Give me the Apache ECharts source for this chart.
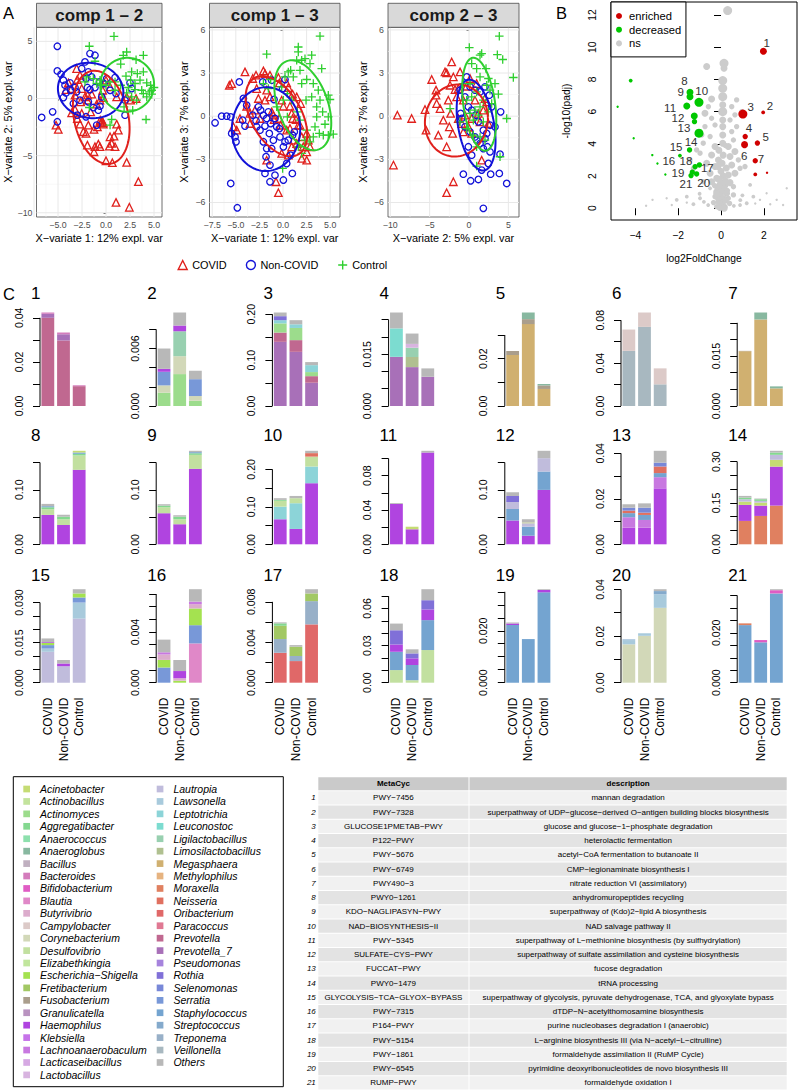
<!DOCTYPE html>
<html><head><meta charset="utf-8">
<script src="https://cdn.jsdelivr.net/npm/echarts@6/dist/echarts.min.js"></script>
<style>html,body{margin:0;padding:0;background:#fff}#c{width:800px;height:1092px}</style>
</head><body><div id="c"></div>
<script>
const FONT = '"Liberation Sans", Arial, Helvetica, sans-serif';
const groupNames = ['COVID', 'Non-COVID', 'Control'];

// ---------------- Panel A : sample plots (component scores) ----------------
const comp12_COVID = [[-5.21,-2.33],[-4.97,-2.71],[-3.06,2.62],[-2.71,2.03],[-2.99,1.66],[-3.92,1.37],[-4.17,0.78],[-3.58,0.87],[-3.23,0.29],[-2.53,0.87],[-2.19,0.14],[-1.91,0.29],[-1.49,0.38],[-1.94,-0.15],[-2.64,-0.29],[-3.23,-0.96],[-3.58,-1.26],[-2.53,-1.31],[-1.6,-1.17],[-0.97,-0.5],[-0.63,-0.15],[-0.28,0.08],[-0.35,0.72],[0.0,1.6],[0.42,1.02],[1.11,0.14],[2.15,0.14],[2.57,-0.15],[3.13,0.0],[-0.56,-2.13],[-0.28,-2.24],[-0.9,-2.48],[-1.25,-2.71],[-1.84,-2.33],[-2.08,-3.06],[-2.36,-2.91],[-1.94,-4.08],[-1.15,-4.22],[-0.8,-3.99],[-0.63,-4.22],[0.42,-3.35],[0.83,-3.29],[1.11,-2.24],[1.28,-2.77],[0.59,-3.93],[0.94,-4.22],[0.35,-4.17],[-1.25,-4.66],[0.0,-5.45],[0.66,-5.62],[2.15,-5.59],[3.37,-7.28],[1.04,-9.09],[2.43,-9.52],[-2.71,-2.24],[-2.99,-1.75],[-0.4,-2.0],[-0.6,-1.9],[-0.3,-2.1]];
const comp12_NonCOVID = [[-5.07,4.57],[-6.70,-1.66],[-5.07,2.41],[-4.69,2.12],[-5.56,-1.17],[-5.07,-2.04],[-1.67,3.93],[-1.15,3.78],[-2.19,3.2],[-2.53,2.62],[-4.44,1.6],[-4.27,1.16],[-3.75,1.37],[-3.23,0.96],[-4.44,0.08],[-4.17,0.49],[-3.06,0.58],[-3.68,0.72],[-1.84,2.33],[-1.49,1.89],[-2.08,1.74],[-1.94,0.96],[-1.67,0.78],[-1.15,0.96],[-0.69,1.45],[-0.45,0.14],[-0.63,-0.67],[-0.8,-1.02],[-0.21,1.31],[0.07,1.74],[0.94,1.83],[0.42,0.72],[1.04,0.43],[1.98,-1.46],[1.98,-0.15],[-0.97,-2.33],[-1.84,-0.29],[-2.71,-0.15],[-3.4,-0.44],[-2.99,-1.46],[-2.08,-1.6],[-1.32,-0.79],[2.5,1.37],[2.67,0.87]];
const comp12_Control = [[0.83,5.44],[-1.74,4.57],[2.15,4.07],[1.8,3.78],[3.13,3.4],[3.89,3.78],[-1.15,3.26],[1.53,3.0],[2.67,2.33],[3.26,2.18],[3.89,2.33],[2.08,1.95],[2.57,1.6],[3.02,1.31],[3.54,1.6],[4.24,1.37],[4.65,1.16],[5.0,0.96],[4.51,0.58],[4.76,0.38],[3.72,0.72],[3.02,0.78],[2.33,0.96],[1.53,1.16],[0.94,1.45],[0.42,1.45],[0.0,1.16],[-0.45,1.16],[-0.63,1.6],[-0.97,1.31],[-2.01,1.89],[-1.32,1.74],[-2.19,1.45],[-1.74,-0.79],[0.59,-1.84],[0.42,-2.33],[1.88,-0.73],[2.78,-1.02],[4.17,-1.84],[3.19,-0.15],[2.67,0.14],[2.15,0.49],[0.94,0.72],[4.24,0.14],[4.76,0.72],[3.89,0.43]];

const comp13_COVID = [[-5.69,2.15],[-5.44,2.27],[-4.03,3.08],[-2.86,2.85],[-3.21,2.62],[-2.08,3.15],[-1.91,2.96],[-1.38,2.85],[-0.49,2.69],[-0.39,2.31],[0.39,2.31],[0.56,1.99],[1.02,1.53],[1.45,1.34],[1.87,0.88],[-2.79,1.92],[-2.61,1.23],[-3.85,0.69],[-3.5,0.19],[-3.5,-0.51],[-4.56,-0.16],[-2.97,0.42],[-2.44,-0.16],[-1.2,0.3],[-1.02,0.07],[-0.95,-0.23],[-1.91,1.11],[-1.38,1.34],[-1.73,1.81],[-0.14,1.11],[0.04,0.69],[0.74,0.69],[0.92,0.19],[1.02,-0.16],[1.38,-0.23],[1.62,-0.63],[0.39,-0.97],[0.74,-0.86],[-0.25,-0.63],[-0.39,-0.16],[1.8,-0.63],[2.51,-1.2],[1.98,-1.44],[1.09,-1.67],[1.45,-1.9],[2.15,-2.13],[2.68,-1.67],[2.86,-2.13],[2.51,-2.48],[1.98,-2.94],[2.51,-3.06],[0.92,-2.13],[0.56,-2.71],[-0.14,-2.59],[-1.73,-3.06],[-0.74,-4.56],[-0.49,-5.32],[-4.91,-0.97],[-5.26,-0.74]];
const comp13_NonCOVID = [[-4.63,2.38],[-7.2,-0.46],[-6.5,0.0],[-5.97,0.0],[-5.54,-0.05],[-5.44,-1.2],[-5.08,-1.44],[-4.98,-1.78],[-5.54,-4.68],[-4.84,-6.37],[-4.2,1.23],[-3.85,0.76],[-4.27,-0.28],[-4.03,-0.69],[-3.21,0.07],[-2.86,-0.32],[-2.61,0.65],[-2.37,0.42],[-2.08,0.07],[-1.73,-0.16],[-1.55,0.3],[-2.79,-0.74],[-2.44,-0.97],[-1.91,-0.69],[-1.31,-0.51],[-0.85,-0.16],[-0.67,-0.74],[-0.39,-0.86],[-0.32,-1.44],[-1.02,-1.67],[-1.45,-1.2],[-2.08,-1.78],[-1.73,-2.25],[-1.2,-2.25],[-1.8,-2.82],[-1.38,-3.4],[-1.91,-3.98],[-1.38,-4.56],[-0.85,-4.1],[0.04,-4.44],[0.39,-3.29],[0.81,-2.71],[0.99,-3.98],[0.04,-2.13],[0.21,-1.78],[0.56,-1.67],[1.02,-1.32],[1.2,-1.09],[0.21,2.55],[-2.15,2.38],[-1.2,2.5],[-0.04,1.92],[-0.95,1.16]];
const comp13_Control = [[-1.73,4.31],[3.92,5.56],[1.62,4.81],[1.62,4.47],[1.45,3.89],[1.98,3.89],[0.81,3.19],[2.33,4.0],[3.04,4.24],[2.86,3.66],[4.1,3.31],[1.09,2.73],[1.8,3.19],[2.51,2.55],[1.98,2.27],[3.21,2.27],[3.74,1.81],[4.8,1.46],[4.98,1.16],[3.92,1.11],[3.04,1.34],[2.44,1.11],[3.57,0.65],[4.2,0.3],[4.8,-0.05],[4.45,-0.56],[3.57,-0.05],[3.39,-0.74],[3.85,-1.2],[4.27,-1.32],[4.8,-1.32],[5.33,-1.25],[3.21,-1.44],[2.86,-1.78],[2.33,-1.67],[2.51,-0.97],[1.8,-0.28],[1.52,0.3],[0.92,1.11],[0.46,1.57],[0.04,1.11],[-0.67,0.65],[0.46,-0.05],[-0.14,2.04],[-1.31,2.55],[-1.55,1.92],[-2.08,2.27],[-0.04,-3.63],[1.98,-2.59],[1.62,-2.13],[0.21,2.73],[0.56,3.08]];

const comp23_COVID = [[-7.29,-0.16],[-5.59,0.46],[-5.46,-0.97],[-4.74,2.55],[-4.19,1.81],[-4.19,1.46],[-4.11,0.88],[-3.9,-1.32],[-3.68,0.53],[-3.26,-0.28],[-3.05,3.08],[-2.84,3.01],[-2.84,-2.13],[-2.63,1.11],[-2.5,-0.74],[-2.41,2.15],[-2.33,0.19],[-2.2,3.77],[-2.08,-1.2],[-1.99,-4.56],[-1.78,1.85],[-1.57,1.34],[-1.36,-0.16],[-1.14,3.08],[-0.93,-0.51],[-0.72,1.11],[-0.51,0.07],[-0.3,2.08],[-0.08,-0.74],[0.13,2.62],[-2.84,-5.32],[0.76,1.11],[0.97,2.27],[1.19,0.19],[1.4,-0.39],[1.61,-3.06],[1.82,0.42],[2.03,1.23],[2.25,1.0],[2.46,-0.51],[-0.72,-1.09],[0.34,-0.16],[-1.36,1.92],[-1.99,2.73],[0.34,-1.2],[-9.1,0.07],[-9.6,-3.4]];
const comp23_NonCOVID = [[-0.72,-4.03],[0.21,-4.49],[1.19,-4.4],[1.82,-6.41],[2.75,-4.03],[4.79,-4.68],[3.85,-3.98],[3.94,-2.64],[4.02,0.3],[3.3,-0.74],[2.67,-2.48],[2.46,-3.29],[1.82,-2.25],[1.4,-1.9],[0.76,-1.44],[0.13,-1.09],[-0.51,-0.74],[-1.06,0.19],[-1.14,1.81],[-0.51,1.34],[-0.08,0.65],[0.34,0.42],[0.89,0.07],[1.19,-0.39],[1.82,-0.97],[2.03,-1.55],[2.33,-2.13],[2.67,-0.63],[2.88,0.65],[2.58,1.46],[2.03,2.04],[1.4,1.69],[0.76,1.81],[0.13,2.04],[-0.08,-2.13],[0.34,-2.71],[1.61,-3.75],[-0.3,2.73],[-0.93,-0.16],[0.97,-1.67],[2.25,-1.2]];
const comp23_Control = [[3.85,5.56],[0.04,4.77],[1.61,4.35],[1.4,4.24],[3.6,4.28],[4.28,3.94],[0.34,3.66],[0.97,3.31],[2.16,3.31],[5.63,2.69],[1.4,2.73],[2.46,2.62],[0.13,2.27],[-0.72,2.27],[3.3,2.27],[3.73,1.53],[2.67,1.81],[-2.41,0.53],[0.97,1.69],[0.34,1.34],[1.82,1.11],[1.4,0.65],[0.76,0.42],[0.13,0.19],[1.19,0.07],[0.55,-0.28],[1.82,-0.39],[2.46,0.3],[-0.3,-0.86],[0.55,-1.32],[1.4,-1.44],[2.03,-1.67],[0.97,-2.13],[4.79,-0.16],[3.94,-2.82],[0.97,-3.47],[2.88,0.88],[-1.14,-0.39],[-0.3,1.11],[2.25,2.15]];

// confidence ellipses: [centreX, centreY, axis1X, axis1Y, axis2X, axis2Y] per group (COVID, Non-COVID, Control)
const ellipse12 = [[-0.5,-1.65,1.05,-4.05,2.76,0.5],[-1.6,0.7,3.4,-0.35,0.25,2.4],[2.2,1.2,2.8,0.2,-0.2,2.35]];
const ellipse13 = [[-0.7,0.0,2.33,-2.65,2.29,0.87],[-1.8,-0.9,3.6,-0.3,0.4,2.9],[2.1,0.76,1.7,-3.07,2.49,0.59]];
const ellipse23 = [[-1.6,-0.3,4.0,0.2,-0.1,2.5],[0.9,-0.62,1.02,-3.15,2.25,0.22],[1.3,0.83,0.83,-3.23,2.0,0.15]];

const ticksX12 = [-7.5,-5,-2.5,0,2.5,5], ticksY12 = [-10,-5,0,5];
const ticksX13 = [-7.5,-5,-2.5,0,2.5,5], ticksY13 = [-6,-3,0,3,6];
const ticksX23 = [-10,-5,0,5], ticksY23 = [-6,-3,0,3,6];

// ---------------- Panel B : volcano plot ----------------
// [log2FoldChange, -log10(padj), mean-abundance class]
const volcanoNs = [[0.31,12.28,5],[0.14,9.0,5],[0.14,8.69,4],[-0.67,8.8,4],[0.08,7.93,5],[0.08,7.45,5],[0.08,6.93,5],[0.08,6.42,4],[0.08,6.0,5],[0.08,5.48,4],[0.08,5.07,4],[0.08,4.55,4],[0.08,4.04,4],[-0.44,6.79,4],[-0.59,6.31,3],[-0.75,5.9,4],[-0.44,5.59,3],[-0.28,5.17,3],[-0.75,5.07,3],[-0.9,4.55,3],[-0.51,4.45,3],[-0.28,3.83,4],[-0.83,4.04,3],[-0.98,3.42,3],[-0.44,3.31,4],[-0.12,3.0,4],[-0.67,2.79,4],[0.73,6.73,3],[0.5,6.31,3],[0.97,6.0,3],[0.65,5.8,3],[0.42,5.48,3],[0.73,5.07,3],[0.5,4.76,3],[0.58,4.24,3],[0.34,3.83,4],[0.65,3.52,4],[0.42,3.21,4],[0.81,3.0,3],[0.5,2.69,4],[0.89,2.48,3],[0.65,2.17,4],[0.34,2.07,4],[-0.28,2.59,4],[-0.51,2.17,4],[-0.2,1.86,4],[-0.44,1.65,4],[-0.83,1.65,3],[-0.05,1.45,4],[0.19,1.45,4],[0.42,1.59,4],[0.58,1.34,3],[0.03,1.03,4],[-0.2,1.03,4],[0.26,0.93,4],[-0.12,0.62,4],[0.11,0.52,4],[0.34,0.62,3],[0.05,0.2,4],[0.19,0.1,3],[-0.28,0.72,3],[0.58,0.83,3],[1.12,2.59,3],[-1.29,2.48,3],[-1.45,3.0,3],[-1.14,3.62,3],[-0.51,1.24,2],[1.36,1.45,2],[-1.6,0.72,2],[-2.07,0.52,2],[1.51,0.72,2],[2.13,0.93,1],[3.07,1.24,1],[-0.98,0.62,2],[1.2,0.31,2],[2.6,0.52,1],[-2.54,0.62,1],[-3.2,0.52,1],[1.82,0.52,1],[-1.29,0.25,2],[0.89,0.2,2],[0.0,2.3,4],[0.1,2.0,4],[-0.1,1.8,4],[0.2,1.7,4],[0.05,1.5,4],[-0.15,1.3,4],[0.15,1.2,4],[0.0,1.0,4],[-0.05,0.8,4],[0.1,0.6,4],[-0.1,0.4,4],[0.05,0.3,4],[0.2,0.5,4],[-0.2,0.9,4],[0.3,1.1,3],[-0.3,1.4,3],[0.25,2.5,4],[-0.15,2.6,4],[0.05,2.8,4],[0.1,3.3,4],[-0.1,3.6,4],[0.2,3.9,3],[-0.35,0.35,3],[0.4,0.3,3],[0.6,0.15,2],[-0.6,0.2,2],[-0.8,0.4,2],[0.9,0.5,2],[1.0,0.8,2],[-1.0,0.9,2],[-1.6,0.35,1],[-2.3,0.2,1],[1.6,0.3,1],[2.3,0.25,1],[-3.5,0.15,1],[2.9,0.2,1],[-0.05,0.05,4],[0.15,0.0,4],[-0.2,0.1,3]];
const volcanoEnriched = [[1.98,9.75,4],[1.97,5.95,2],[1.02,5.85,5],[1.13,4.45,3],[1.7,4.05,3],[1.1,3.95,4],[1.6,2.95,3],[1.6,2.1,2],[2.15,2.2,1]];
const volcanoDecreased = [[-1.45,7.2,4],[-1.45,6.93,4],[-1.03,6.58,5],[-1.6,6.35,4],[-1.25,5.73,4],[-1.24,5.38,3],[-1.03,4.66,5],[-1.47,3.62,3],[-1.92,3.27,2],[-1.21,2.58,3],[-1.01,2.69,3],[-1.34,2.24,3],[-1.14,2.13,3],[-1.4,2.03,3],[-4.22,7.93,2],[-4.83,6.3,1],[-4.08,4.35,1],[-3.21,3.3,1],[-2.97,2.78,1],[-2.6,2.1,1]];
const volcanoLabelText = ['1','2','3','4','5','6','7','8','9','10','11','12','13','14','15','16','17','18','19','20','21'];
const volcanoLabelPos = [[2.14,10.29],[2.29,6.35],[1.39,6.27],[1.31,4.99],[2.09,4.45],[1.08,3.25],[1.87,3.06],[-1.71,7.93],[-1.88,7.23],[-0.9,7.31],[-2.38,6.21],[-2.01,5.62],[-1.73,4.97],[-1.4,4.1],[-2.1,3.83],[-2.44,2.94],[-0.64,2.48],[-1.64,2.94],[-2.01,2.2],[-0.81,1.54],[-1.64,1.5]];
const volcanoXTicks = [-4,-2,0,2];
const volcanoYTicks = [0,2,4,6,8,10,12];

// ---------------- Panel C : genus contributions per pathway ----------------
// [genus, COVID, Non-COVID, Control] (segments, bottom to top)
const pathway1 = [['Prevotella',0.0400,0.0297,0.0090],['Prevotella_7',0.0018,0.0028,0],['Bacteroides',0.0006,0.0008,0.0004]];
const pathway2 = [['Actinomyces',0.00139,0.00333,0.00055],['Corynebacterium',0.00076,0.00187,0.00049],['Ligilactobacillus',0,0.0026,0],['Serratia',0.00142,0,0.00176],['Haemophilus',0.00031,0.0006,0],['Others',0.00212,0.00136,0.00088]];
const pathway3 = [['Prevotella_7',0.1398,0.118,0.0507],['Prevotella',0.0202,0.0255,0.0143],['Actinomyces',0.020,0.0265,0.0089],['Leptotrichia',0.007,0.008,0.0151],['Rothia',0.0087,0,0],['Others',0.008,0.009,0.0067]];
const pathway4 = [['Prevotella_7',0.01425,0.01127,0.00847],['Limosilactobacillus',0,0.00293,0],['Leuconostoc',0.00825,0,0],['Ligilactobacillus',0,0.0027,0],['Lactobacillus',0,0.0011,0],['Others',0.0046,0.003,0.00243]];
const pathway5 = [['Megasphaera',0.0215,0.0346,0.0072],['Fusobacterium',0.0017,0.0021,0.0015],['Anaeroglobus',0,0.0028,0.0006]];
const pathway6 = [['Veillonella',0.0514,0.0738,0.0202],['Campylobacter',0.0199,0.0134,0.0149]];
const pathway7 = [['Megasphaera',0.01647,0.026,0.0053],['Fusobacterium',0.0001,0,0],['Anaeroglobus',0,0.0021,0.0006]];
const pathway8 = [['Haemophilus',0.0539,0.0355,0.1366],['Desulfovibrio',0.0104,0.0105,0.0264],['Aggregatibacter',0.0036,0.0047,0.003],['Staphylococcus',0.002,0,0.0024],['Acinetobacter',0,0,0.0031],['Others',0.0042,0.0033,0]];
const pathway9 = [['Haemophilus',0.057,0.0368,0.1384],['Desulfovibrio',0.011,0.0092,0.0256],['Aggregatibacter',0.003,0.0047,0.003],['Staphylococcus',0,0,0.002],['Others',0.0025,0.0026,0.0025]];
const pathway10 = [['Haemophilus',0.0668,0.041,0.163],['Leptotrichia',0.0337,0.0686,0.0445],['Desulfovibrio',0.0155,0.0134,0.0265],['Aggregatibacter',0.0025,0,0],['Neisseria',0,0,0.0093],['Others',0.0045,0.006,0.0062]];
const pathway11 = [['Haemophilus',0.047,0.0175,0.107],['Acinetobacter',0,0.003,0],['Others',0.001,0,0.002]];
const pathway12 = [['Haemophilus',0.0435,0.0158,0.0998],['Staphylococcus',0.0214,0.0166,0.0337],['Lautropia',0.0129,0.0062,0.0245],['Acinetobacter',0,0.0014,0],['Rothia',0.011,0,0],['Others',0.0068,0.006,0.0135]];
const pathway13 = [['Haemophilus',0.0073,0.0073,0.0246],['Lachnoanaerobaculum',0.0046,0.0034,0.0049],['Staphylococcus',0.0018,0.0022,0.0018],['Neisseria',0.0011,0.001,0.0029],['Selenomonas',0.0013,0.0022,0.0017],['Others',0.0015,0.0019,0.0052]];
const pathway14 = [['Moraxella',0.0848,0.1029,0.1404],['Haemophilus',0.0582,0.0375,0.1416],['Acinetobacter',0.012,0.0109,0.0246],['Lautropia',0.0086,0.0062,0.0181],['Aggregatibacter',0.0059,0.0061,0.0083],['Others',0.0061,0.0024,0.0063]];
const pathway15 = [['Lautropia',0.01157,0.0062,0.024],['Lawsonella',0.0012,0,0.006],['Serratia',0.0013,0,0.0019],['Escherichia-Shigella',0.0008,0,0.0015],['Haemophilus',0.0003,0.001,0],['Others',0.0014,0.0013,0.0016]];
const pathway16 = [['Blautia',0,0,0.0031],['Serratia',0.0012,0,0.00144],['Escherichia-Shigella',0.0006,0.00016,0.00132],['Butyrivibrio',0.00043,0.00019,0.00034],['Lachnoanaerobaculum',0.00017,0,0.0002],['Haemophilus',0,0.00057,0],['Others',0.001,0.00087,0.00098]];
const pathway17 = [['Oribacterium',0.00296,0.00214,0.00577],['Treponema',0.00136,0.0005,0.0023],['Fretibacterium',0.00131,0.00092,0.00076],['Aggregatibacter',0.00024,0,0],['Others',0.0001,0.00016,0.00042]];
const pathway18 = [['Desulfovibrio',0.0102,0.002,0.0264],['Staphylococcus',0.0148,0.0123,0.0242],['Haemophilus',0.0059,0.0054,0.0086],['Rothia',0.0115,0.004,0.0075],['Others',0.0054,0.0033,0.0089]];
const pathway19 = [['Staphylococcus',0.0222,0.0168,0.0348],['Haemophilus',0.0006,0,0.0009],['Others',0.0004,0,0.0003]];
const pathway20 = [['Corynebacterium',0.01646,0.0201,0.0321],['Lawsonella',0.0018,0.0011,0.0058],['Streptococcus',0.0003,0,0.0014],['Others',0,0,0.0008]];
const pathway21 = [['Staphylococcus',0.0231,0.0162,0.0358],['Moraxella',0.0007,0,0],['Bifidobacterium',0,0.0009,0.0013],['Others',0,0,0.0004]];
const pathways = [pathway1,pathway2,pathway3,pathway4,pathway5,pathway6,pathway7,pathway8,pathway9,pathway10,pathway11,pathway12,pathway13,pathway14,pathway15,pathway16,pathway17,pathway18,pathway19,pathway20,pathway21];
const barTickStep  = [0.01,0.002,0.05,0.005,0.01,0.02,0.005,0.05,0.05,0.05,0.02,0.05,0.01,0.05,0.005,0.001,0.002,0.01,0.005,0.01,0.005];
const barTickTop   = [0.04,0.008,0.20,0.025,0.03,0.08,0.025,0.15,0.15,0.20,0.10,0.15,0.04,0.30,0.030,0.007,0.008,0.07,0.035,0.04,0.035];
const barLabelStep = [0.02,0.006,0.10,0.015,0.02,0.04,0.015,0.10,0.10,0.10,0.04,0.10,0.02,0.15,0.015,0.004,0.004,0.03,0.020,0.02,0.020];

const genera = ['Acinetobacter','Actinobacillus','Actinomyces','Aggregatibacter','Anaerococcus','Anaeroglobus','Bacillus','Bacteroides','Bifidobacterium','Blautia','Butyrivibrio','Campylobacter','Corynebacterium','Desulfovibrio','Elizabethkingia','Escherichia-Shigella','Fretibacterium','Fusobacterium','Granulicatella','Haemophilus','Klebsiella','Lachnoanaerobaculum','Lacticaseibacillus','Lactobacillus','Lautropia','Lawsonella','Leptotrichia','Leuconostoc','Ligilactobacillus','Limosilactobacillus','Megasphaera','Methylophilus','Moraxella','Neisseria','Oribacterium','Paracoccus','Prevotella','Prevotella_7','Pseudomonas','Rothia','Selenomonas','Serratia','Staphylococcus','Streptococcus','Treponema','Veillonella','Others'];
const genusPalette = ['#c5dc74','#b4dc84','#9cdc8c','#84d890','#70d898','#88b8a0','#b09cb0','#d47cbc','#e05cc4','#e088c8','#dcaccc','#dccac8','#d2d8b8','#c2e0a0','#b2e084','#a4e250','#a2c864','#aa9e8c','#a878b0','#b044e0','#b850e4','#c878e0','#cc94dc','#d8b4e0','#c0bcdc','#a8cadc','#8cd4d8','#7cdcd0','#98d0b0','#b0c090','#d0b070','#e0a060','#e08060','#e07060','#e06868','#d85878','#c06890','#a870b8','#9064d4','#8070d8','#7888d8','#7898d8','#74a4d0','#84aacc','#98b0c8','#a8b8c0','#b8b8b8'];

// ---------------- Table ----------------
const metacycIds = ['PWY-7456','PWY-7328','GLUCOSE1PMETAB-PWY','P122-PWY','PWY-5676','PWY-6749','PWY490-3','PWY0-1261','KDO-NAGLIPASYN-PWY','NAD-BIOSYNTHESIS-II','PWY-5345','SULFATE-CYS-PWY','FUCCAT-PWY','PWY0-1479','GLYCOLYSIS-TCA-GLYOX-BYPASS','PWY-7315','P164-PWY','PWY-5154','PWY-1861','PWY-6545','RUMP-PWY'];
const descriptions = ['mannan degradation','superpathway of UDP-glucose-derived O-antigen building blocks biosynthesis','glucose and glucose-1-phosphate degradation','heterolactic fermentation','acetyl-CoA fermentation to butanoate II','CMP-legionaminate biosynthesis I','nitrate reduction VI (assimilatory)','anhydromuropeptides recycling','superpathway of (Kdo)2-lipid A biosynthesis','NAD salvage pathway II','superpathway of L-methionine biosynthesis (by sulfhydrylation)','superpathway of sulfate assimilation and cysteine biosynthesis','fucose degradation','tRNA processing','superpathway of glycolysis, pyruvate dehydrogenase, TCA, and glyoxylate bypass','dTDP-N-acetylthomosamine biosynthesis','purine nucleobases degradation I (anaerobic)','L-arginine biosynthesis III (via N-acetyl-L-citrulline)','formaldehyde assimilation II (RuMP Cycle)','pyrimidine deoxyribonucleotides de novo biosynthesis III','formaldehyde oxidation I'];

// =====================================================================
const RED = '#e0201c', BLUE = '#1212d8', GREEN = '#2fcf2f';
const grpColors = [RED, BLUE, GREEN];
const grpSymbols = ['triangle', 'circle', 'path://M5,0V10M0,5H10'];
const grpSizes = [7.5, 6.5, 8.5];
const minus = s => String(s).replace(/-/g, '\u2212');
const colorOf = g => genusPalette[genera.indexOf(g)];

const grid = [], xAxis = [], yAxis = [], series = [], graphic = [];

function txt(text, x, y, opt) {
  opt = opt || {};
  return {type: 'text', silent: true, z: opt.z || 50, rotation: opt.rotation || 0, x: x, y: y,
    style: {text: text, x: 0, y: 0, fill: opt.fill || '#000',
      font: (opt.style || '') + ' ' + (opt.weight || '') + ' ' + (opt.size || 12) + 'px ' + FONT,
      align: opt.align || 'left', textAlign: opt.align || 'left',
      verticalAlign: opt.valign || 'middle', textVerticalAlign: opt.valign || 'middle'}};
}
function rect(x, y, w, h, fill, stroke, lw) {
  return {type: 'rect', silent: true, z: 40, shape: {x: x, y: y, width: w, height: h},
    style: {fill: fill, stroke: stroke || null, lineWidth: lw || 0}};
}

// ---------------- Panel A ----------------
const panelA = [
  {label: 'comp 1 \u2013 2', left: 36.5, width: 125.5, xr: [-7.24, 5.83], yr: [-10.37, 6.23], xt: ticksX12, yt: ticksY12, xd: 1,
   xn: 'X\u2212variate 1: 12% expl. var', yn: 'X\u2212variate 2: 5% expl. var', pts: [comp12_COVID, comp12_NonCOVID, comp12_Control], ell: ellipse12},
  {label: 'comp 1 \u2013 3', left: 209.5, width: 130.5, xr: [-7.79, 6.04], yr: [-7.01, 6.18], xt: ticksX13, yt: ticksY13, xd: 1,
   xn: 'X\u2212variate 1: 12% expl. var', yn: 'X\u2212variate 3: 7% expl. var', pts: [comp13_COVID, comp13_NonCOVID, comp13_Control], ell: ellipse13},
  {label: 'comp 2 \u2013 3', left: 388, width: 131, xr: [-10.29, 6.35], yr: [-7.01, 6.18], xt: ticksX23, yt: ticksY23, xd: 0,
   xn: 'X\u2212variate 2: 5% expl. var', yn: 'X\u2212variate 3: 7% expl. var', pts: [comp23_COVID, comp23_NonCOVID, comp23_Control], ell: ellipse23}
];
function minorOf(maj, lo, hi) {
  const st = maj[1] - maj[0], out = [];
  for (let v = maj[0] - st * 3.5; v <= hi; v += st) if (v >= lo) out.push(v);
  return out;
}
panelA.forEach((p, k) => {
  grid.push({left: p.left, top: 27.3, width: p.width, height: 189.7, show: true, borderColor: '#4a4a4a', borderWidth: 0.8, backgroundColor: '#fff', z: 0});
  xAxis.push({type: 'value', gridIndex: k, min: p.xr[0], max: p.xr[1],
    axisLine: {show: false}, splitLine: {show: false},
    axisTick: {show: true, customValues: p.xt, length: 2.5, lineStyle: {color: '#333', width: 0.8}},
    axisLabel: {customValues: p.xt, margin: 3.5, fontSize: 8.8, color: '#4d4d4d', fontFamily: FONT, formatter: v => minus(v.toFixed(p.xd))},
    name: p.xn, nameLocation: 'middle', nameGap: 15, nameTextStyle: {fontSize: 10.9, color: '#000', fontFamily: FONT}});
  yAxis.push({type: 'value', gridIndex: k, min: p.yr[0], max: p.yr[1],
    axisLine: {show: false}, splitLine: {show: false},
    axisTick: {show: true, customValues: p.yt, length: 2.5, lineStyle: {color: '#333', width: 0.8}},
    axisLabel: {customValues: p.yt, margin: 4, fontSize: 8.8, color: '#4d4d4d', fontFamily: FONT, formatter: v => minus(v)},
    name: p.yn, nameLocation: 'middle', nameGap: 20, nameTextStyle: {fontSize: 10.9, color: '#000', fontFamily: FONT}});
  const xMin = minorOf(p.xt, p.xr[0], p.xr[1]), yMin = minorOf(p.yt, p.yr[0], p.yr[1]);
  series.push({type: 'custom', xAxisIndex: k, yAxisIndex: k, silent: true, z: 1, data: [[0, 0]],
    renderItem: (params, api) => {
      const cs = params.coordSys, els = [];
      const vl = (v, col, w) => { const x = api.coord([v, 0])[0]; els.push({type: 'line', shape: {x1: x, y1: cs.y, x2: x, y2: cs.y + cs.height}, style: {stroke: col, lineWidth: w}}); };
      const hl = (v, col, w) => { const y = api.coord([0, v])[1]; els.push({type: 'line', shape: {x1: cs.x, y1: y, x2: cs.x + cs.width, y2: y}, style: {stroke: col, lineWidth: w}}); };
      xMin.forEach(v => vl(v, '#f3f3f3', 0.6)); yMin.forEach(v => hl(v, '#f3f3f3', 0.6));
      p.xt.forEach(v => vl(v, '#e8e8e8', 1)); p.yt.forEach(v => hl(v, '#e8e8e8', 1));
      return {type: 'group', children: els};
    }});
  p.pts.forEach((pts, g) => {
    series.push({type: 'scatter', name: groupNames[g], xAxisIndex: k, yAxisIndex: k, data: pts, silent: true, z: 3,
      symbol: grpSymbols[g], symbolSize: grpSizes[g],
      itemStyle: {color: 'rgba(0,0,0,0)', borderColor: grpColors[g], borderWidth: 1.3, opacity: 1}});
  });
  p.ell.forEach((e, g) => {
    series.push({type: 'custom', xAxisIndex: k, yAxisIndex: k, silent: true, z: 4, data: [e],
      renderItem: (params, api) => {
        const v = [0, 1, 2, 3, 4, 5].map(i => api.value(i)), pts = [];
        for (let i = 0; i <= 90; i++) {
          const t = i / 90 * 2 * Math.PI;
          pts.push(api.coord([v[0] + Math.cos(t) * v[2] + Math.sin(t) * v[4], v[1] + Math.cos(t) * v[3] + Math.sin(t) * v[5]]));
        }
        return {type: 'polyline', shape: {points: pts}, style: {stroke: grpColors[g], lineWidth: 2, fill: null}};
      }});
  });
  graphic.push(rect(p.left, 3.3, p.width, 24, '#d9d9d9', '#4a4a4a', 0.8));
  graphic.push(txt(p.label, p.left + p.width / 2, 15.6, {size: 17, weight: 'bold', align: 'center', fill: '#1a1a1a'}));
});

// ---------------- Panel B ----------------
grid.push({left: 611, top: 2, width: 186, height: 218, show: true, borderColor: '#000', borderWidth: 1, backgroundColor: 'rgba(0,0,0,0)', z: 0});
xAxis.push({type: 'value', gridIndex: 3, min: -5.14, max: 3.55, axisLine: {show: false}, splitLine: {show: false},
  axisTick: {show: true, customValues: volcanoXTicks, length: 7, lineStyle: {color: '#000', width: 1}},
  axisLabel: {customValues: volcanoXTicks, margin: 10, fontSize: 10.3, color: '#000', fontFamily: FONT, formatter: v => minus(v)},
  name: 'log2FoldChange', nameLocation: 'middle', nameGap: 33, nameTextStyle: {fontSize: 10.3, color: '#000', fontFamily: FONT}});
yAxis.push({type: 'value', gridIndex: 3, min: -0.73, max: 12.81, axisLine: {show: false}, splitLine: {show: false},
  axisTick: {show: true, customValues: volcanoYTicks, length: 7, lineStyle: {color: '#000', width: 1}},
  axisLabel: {customValues: volcanoYTicks, margin: 13.5, rotate: 90, fontSize: 10.3, color: '#000', fontFamily: FONT},
  name: '-log10(padj)', nameLocation: 'middle', nameGap: 40, nameTextStyle: {fontSize: 10.3, color: '#000', fontFamily: FONT}});
const volcanoSize = [0, 2.4, 3.8, 5.4, 7.0, 9.0];
series.push({type: 'scatter', name: 'ns', xAxisIndex: 3, yAxisIndex: 3, data: volcanoNs, silent: true, z: 2,
  symbolSize: v => volcanoSize[v[2]], itemStyle: {color: '#cccccc', opacity: 1}});
series.push({type: 'scatter', name: 'decreased', xAxisIndex: 3, yAxisIndex: 3, data: volcanoDecreased, silent: true, z: 3,
  symbolSize: v => volcanoSize[v[2]], itemStyle: {color: '#00c800', opacity: 1}});
series.push({type: 'scatter', name: 'enriched', xAxisIndex: 3, yAxisIndex: 3, data: volcanoEnriched, silent: true, z: 3,
  symbolSize: v => volcanoSize[v[2]], itemStyle: {color: '#d00000', opacity: 1}});
series.push({type: 'custom', xAxisIndex: 3, yAxisIndex: 3, silent: true, z: 5, data: volcanoLabelPos,
  renderItem: (params, api) => {
    const p = api.coord([api.value(0), api.value(1)]);
    return {type: 'text', x: p[0], y: p[1], style: {text: volcanoLabelText[params.dataIndex], fill: '#333', fontSize: 11.5, fontFamily: FONT, align: 'center', verticalAlign: 'middle'}};
  }});

// ---------------- Panel C ----------------
const rowBase = [406, 544.3, 682.7];
const rowTitleY = [293.5, 435.5, 575.5];
const decimalsOf = s => (String(s).split('.')[1] || '').length;
pathways.forEach((pw, i) => {
  const r = Math.floor(i / 7), c = i % 7, gi = 4 + i;
  const axisX = 40 + 116.2 * c, base = rowBase[r], H = 93.5;
  const totals = [1, 2, 3].map(j => pw.reduce((s, seg) => s + seg[j], 0));
  const ymax = Math.max.apply(null, totals);
  const step = barTickStep[i], top = barTickTop[i], lstep = barLabelStep[i], dec = decimalsOf(step);
  const ticks = [], labs = [];
  for (let k = 0; k * step <= top + 1e-9; k++) ticks.push(+(k * step).toFixed(6));
  for (let k = 0; k * lstep <= top + 1e-9; k++) labs.push(+(k * lstep).toFixed(6));
  grid.push({left: axisX, top: base - H, width: 47, height: H});
  xAxis.push({type: 'category', gridIndex: gi, data: groupNames, axisLine: {show: false}, axisTick: {show: false},
    axisLabel: {show: r === 2, interval: 0, rotate: 90, margin: 15, fontSize: 11.9, color: '#000', fontFamily: FONT}});
  yAxis.push({type: 'value', gridIndex: gi, min: 0, max: ymax, axisLine: {show: false}, splitLine: {show: false},
    axisTick: {show: true, customValues: ticks, length: 7, lineStyle: {color: '#000', width: 1}},
    axisLabel: {customValues: labs, rotate: 90, margin: 16, fontSize: 10.6, color: '#000', fontFamily: FONT, formatter: v => v.toFixed(dec)}});
  pw.forEach(seg => {
    series.push({type: 'bar', name: seg[0], xAxisIndex: gi, yAxisIndex: gi, stack: 'pw' + i, barWidth: 12.8, silent: true,
      data: seg.slice(1), itemStyle: {color: colorOf(seg[0])}});
  });
  series.push({type: 'custom', xAxisIndex: gi, yAxisIndex: gi, silent: true, z: 6, data: [[0, top]],
    renderItem: (params, api) => {
      const cs = params.coordSys, y0 = api.coord([0, 0])[1], y1 = api.coord([0, api.value(1)])[1];
      return {type: 'line', shape: {x1: cs.x, y1: y0, x2: cs.x, y2: y1}, style: {stroke: '#000', lineWidth: 1}};
    }});
  graphic.push(txt(String(i + 1), axisX - 9, rowTitleY[r], {size: 17}));
});

// hidden carrier series so that every genus exists for the legend
const hiddenGrid = grid.length;
grid.push({left: -200, top: -200, width: 10, height: 10});
xAxis.push({type: 'value', gridIndex: hiddenGrid, show: false});
yAxis.push({type: 'value', gridIndex: hiddenGrid, show: false});
genera.forEach(g => series.push({type: 'scatter', name: g, xAxisIndex: hiddenGrid, yAxisIndex: hiddenGrid, data: [], itemStyle: {color: colorOf(g)}}));

// ---------------- Legends ----------------
const legends = [];
legends.push({orient: 'horizontal', left: 172.5, top: 254.5, itemWidth: 9, itemHeight: 9, itemGap: 19, selectedMode: false,
  textStyle: {fontSize: 10.9, color: '#000', fontFamily: FONT},
  data: groupNames.map((n, g) => ({name: n, icon: grpSymbols[g], itemStyle: {color: 'rgba(0,0,0,0)', borderColor: grpColors[g], borderWidth: 1.4}}))});
legends.push({orient: 'vertical', left: 611, top: 2, padding: [7.5, 4.7, 7, 5], itemWidth: 10, itemHeight: 6, itemGap: 0.7, selectedMode: false,
  borderColor: '#000', borderWidth: 1, backgroundColor: '#fff', icon: 'circle',
  textStyle: {fontSize: 11.2, lineHeight: 13, color: '#000', fontFamily: FONT},
  data: [{name: 'enriched', itemStyle: {color: '#d00000'}}, {name: 'decreased', itemStyle: {color: '#00c800'}}, {name: 'ns', itemStyle: {color: '#cccccc'}}]});
[genera.slice(0, 24), genera.slice(24)].forEach((col, ci) => {
  legends.push({orient: 'vertical', left: ci === 0 ? 23.3 : 156.7, top: 782.8, height: 305, padding: 0,
    itemWidth: 6.7, itemHeight: 6.7, itemGap: 0, icon: 'rect', selectedMode: false,
    textStyle: {fontSize: 10.5, fontStyle: 'italic', lineHeight: 12.43, color: '#000', fontFamily: FONT, padding: [0, 0, 0, 5]},
    formatter: n => minus(n), data: col});
});
graphic.push(rect(13.3, 776.7, 270, 310, null, '#000', 1));

// ---------------- Panel letters ----------------
graphic.push(txt('A', 3, 12.5, {size: 16.5}));
graphic.push(txt('B', 556, 12.5, {size: 16.5}));
graphic.push(txt('C', 3, 293.5, {size: 16.5}));

// ---------------- Table ----------------
const tblTop = 777.3, hdrH = 13, rowStep = 14.25, rowH = 13.25;
const c1x = 318.3, c1w = 150.2, c2x = 469.5, c2w = 317.2;
graphic.push(rect(c1x, tblTop, c1w, hdrH, '#cacaca'));
graphic.push(rect(c2x, tblTop, c2w, hdrH, '#cacaca'));
graphic.push(txt('MetaCyc', c1x + c1w / 2, tblTop + hdrH / 2, {size: 8, weight: 'bold', align: 'center'}));
graphic.push(txt('description', c2x + c2w / 2, tblTop + hdrH / 2, {size: 8, weight: 'bold', align: 'center'}));
metacycIds.forEach((id, i) => {
  const y = tblTop + hdrH + 1 + i * rowStep, fill = i % 2 === 0 ? '#f1f1f1' : '#e3e3e3';
  graphic.push(rect(c1x, y, c1w, rowH, fill));
  graphic.push(rect(c2x, y, c2w, rowH, fill));
  graphic.push(txt(String(i + 1), 315.8, y + rowH / 2, {size: 8, style: 'italic', align: 'right'}));
  graphic.push(txt(minus(id), c1x + c1w / 2, y + rowH / 2, {size: 8, align: 'center'}));
  graphic.push(txt(minus(descriptions[i]), c2x + c2w / 2, y + rowH / 2, {size: 8, align: 'center'}));
});

const chart = echarts.init(document.getElementById('c'), null, {renderer: 'svg', width: 800, height: 1092});
chart.setOption({
  animation: false, backgroundColor: '#fff', textStyle: {fontFamily: FONT},
  tooltip: {show: false},
  grid: grid, xAxis: xAxis, yAxis: yAxis, series: series, legend: legends, graphic: graphic
});
</script></body></html>
